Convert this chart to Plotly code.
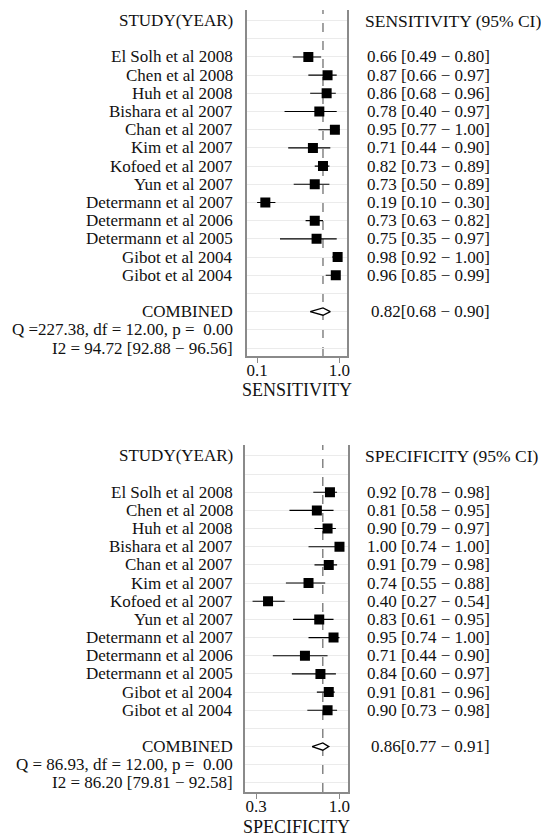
import plotly.graph_objects as go

studies = ["El Solh et al 2008", "Chen et al 2008", "Huh et al 2008", "Bishara et al 2007",
           "Chan et al 2007", "Kim et al 2007", "Kofoed et al 2007", "Yun et al 2007",
           "Determann et al 2007", "Determann et al 2006", "Determann et al 2005",
           "Gibot et al 2004", "Gibot et al 2004"]

sens = [0.66, 0.87, 0.86, 0.78, 0.95, 0.71, 0.82, 0.73, 0.19, 0.73, 0.75, 0.98, 0.96]
sens_lo = [0.49, 0.66, 0.68, 0.40, 0.77, 0.44, 0.73, 0.50, 0.10, 0.63, 0.35, 0.92, 0.85]
sens_hi = [0.80, 0.97, 0.96, 0.97, 1.00, 0.90, 0.89, 0.89, 0.30, 0.82, 0.97, 1.00, 0.99]

spec = [0.92, 0.81, 0.90, 1.00, 0.91, 0.74, 0.40, 0.83, 0.95, 0.71, 0.84, 0.91, 0.90]
spec_lo = [0.78, 0.58, 0.79, 0.74, 0.79, 0.55, 0.27, 0.61, 0.74, 0.44, 0.60, 0.81, 0.73]
spec_hi = [0.98, 0.95, 0.97, 1.00, 0.98, 0.88, 0.54, 0.95, 1.00, 0.90, 0.97, 0.96, 0.98]

sens_comb = [0.82, 0.68, 0.90]
spec_comb = [0.86, 0.77, 0.91]

sens_stats = ["Q =227.38, df = 12.00, p =\u00a0\u00a00.00", "I2 = 94.72 [92.88 \u2212 96.56]"]
spec_stats = ["Q = 86.93, df = 12.00, p =\u00a0\u00a00.00", "I2 = 86.20 [79.81 \u2212 92.58]"]

sens_ticks = [0.1, 1.0]
spec_ticks = [0.3, 1.0]

W, H = 541, 837
FONT = "Liberation Serif, Times New Roman, serif"
FS = 17
AX = "#8a8a8a"

rows = list(range(2, 2 + len(studies)))
comb_row = 16

fig = go.Figure()

panels = [
    dict(xa="x", ya="y", est=sens, lo=sens_lo, hi=sens_hi, comb=sens_comb,
         stats=sens_stats, ticks=sens_ticks, hdr="SENSITIVITY (95% CI)", title="SENSITIVITY",
         xdom=(248, 349), ydom=(10, 356), xr=[-0.0085, 1.087], yr=[18.44, -0.58], title_y=390),
    dict(xa="x2", ya="y2", est=spec, lo=spec_lo, hi=spec_hi, comb=spec_comb,
         stats=spec_stats, ticks=spec_ticks, hdr="SPECIFICITY (95% CI)", title="SPECIFICITY",
         xdom=(246, 350), ydom=(445, 792), xr=[0.208, 1.075], yr=[18.5, -0.6], title_y=827),
]

annotations = []
shapes = []
for i, p in enumerate(panels):
    xa, ya = p["xa"], p["ya"]
    est, lo, hi = p["est"], p["lo"], p["hi"]
    fig.add_trace(go.Scatter(
        x=est, y=rows, mode="markers", xaxis=xa, yaxis=ya,
        marker=dict(symbol="square", size=10, color="black"),
        error_x=dict(type="data", symmetric=False,
                     array=[h - e for h, e in zip(hi, est)],
                     arrayminus=[e - l for e, l in zip(est, lo)],
                     color="black", thickness=1.1, width=0),
        showlegend=False, hoverinfo="skip"))
    ce, cl, ch = p["comb"]
    fig.add_trace(go.Scatter(
        x=[cl, ce, ch, ce, cl], y=[comb_row, comb_row - 0.2, comb_row, comb_row + 0.2, comb_row],
        mode="lines", fill="toself", fillcolor="white",
        line=dict(color="black", width=1.3), xaxis=xa, yaxis=ya,
        showlegend=False, hoverinfo="skip"))
    shapes.append(dict(type="line", xref=xa, yref=f"{ya} domain", x0=ce, x1=ce, y0=0, y1=1,
                       line=dict(color="#666666", width=1.2, dash="dash"), layer="below"))

    axn = "" if i == 0 else "2"
    x0, x1 = p["xdom"]
    y0, y1 = p["ydom"]
    fig.update_layout(**{
        f"xaxis{axn}": dict(domain=[x0 / W, x1 / W], range=p["xr"], anchor=ya,
                            tickvals=p["ticks"], ticktext=[f"{t:.1f}" for t in p["ticks"]],
                            ticks="outside", ticklen=5, tickcolor=AX, tickwidth=1.2,
                            ticklabelstandoff=-7,
                            showline=True, linecolor=AX, linewidth=1.5, mirror=False,
                            showgrid=False, zeroline=False,
                            tickfont=dict(family=FONT, size=17, color="#111111")),
        f"yaxis{axn}": dict(domain=[1 - y1 / H, 1 - y0 / H], range=p["yr"], anchor=xa,
                            tickvals=list(range(0, 19)), showticklabels=False,
                            showgrid=True, gridcolor="#ebebeb", gridwidth=1,
                            showline=True, linecolor=AX, linewidth=1.5, mirror=True,
                            zeroline=False, ticks=""),
    })

    tfont = dict(family=FONT, size=FS, color="#111111")
    annotations.append(dict(text="STUDY(YEAR)", x=236 / W, xref="paper", y=0, yref=ya,
                            xanchor="right", yanchor="middle", showarrow=False, font=tfont))
    annotations.append(dict(text=p["hdr"], x=365 / W, xref="paper", y=0, yref=ya,
                            xanchor="left", yanchor="middle", showarrow=False,
                            font=dict(family=FONT, size=17.5, color="#111111")))
    for r, s, e, l, h in zip(rows, studies, est, lo, hi):
        annotations.append(dict(text=s, x=236 / W, xref="paper", y=r, yref=ya,
                                xanchor="right", yanchor="middle", showarrow=False, font=tfont))
        annotations.append(dict(text=f"{e:.2f} [{l:.2f} \u2212 {h:.2f}]", x=495 / W, xref="paper",
                                y=r, yref=ya, xanchor="right", yanchor="middle",
                                showarrow=False, font=tfont))
    annotations.append(dict(text="COMBINED", x=236 / W, xref="paper", y=comb_row, yref=ya,
                            xanchor="right", yanchor="middle", showarrow=False, font=tfont))
    annotations.append(dict(text=f"{ce:.2f}[{cl:.2f} \u2212 {ch:.2f}]", x=495 / W, xref="paper",
                            y=comb_row, yref=ya, xanchor="right", yanchor="middle",
                            showarrow=False, font=tfont))
    for k, st in enumerate(p["stats"]):
        annotations.append(dict(text=st, x=236 / W, xref="paper", y=comb_row + 1 + k, yref=ya,
                                xanchor="right", yanchor="middle", showarrow=False, font=tfont))
    annotations.append(dict(text=p["title"], x=((x0 + x1) / 2) / W, xref="paper",
                            y=1 - p["title_y"] / H, yref="paper", xanchor="center",
                            yanchor="middle", showarrow=False,
                            font=dict(family=FONT, size=18, color="#111111")))

fig.update_layout(width=W, height=H, margin=dict(l=0, r=0, t=0, b=0),
                  paper_bgcolor="white", plot_bgcolor="white",
                  annotations=annotations, shapes=shapes, showlegend=False)

fig.write_html("out.html")
